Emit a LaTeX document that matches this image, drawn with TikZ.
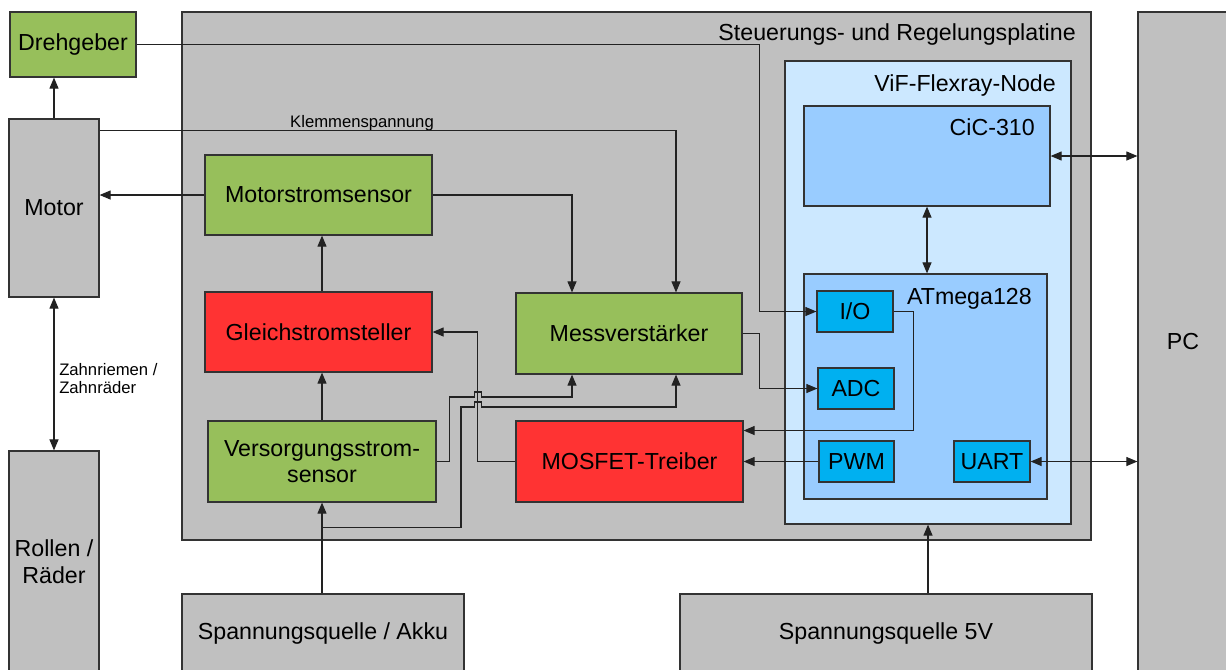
\documentclass[tikz,border=0pt]{standalone}
\usepackage{fontspec}
\setmainfont{Liberation Sans}
\usetikzlibrary{arrows.meta,calc}
\definecolor{grayc}{HTML}{C0C0C0}
\definecolor{greenc}{HTML}{97BF5B}
\definecolor{redc}{HTML}{FF3333}
\definecolor{vifc}{HTML}{CCE8FF}
\definecolor{cicc}{HTML}{99CCFF}
\definecolor{portc}{HTML}{00B0F0}
\definecolor{edgecol}{HTML}{333333}
\definecolor{linecol}{HTML}{222222}
\tikzset{
  box/.style={draw=edgecol, line width=0.9pt, fill=#1, inner sep=0pt, align=center},
  sz/.style 2 args={minimum width=#1*0.75pt, minimum height=#2*0.75pt},
  wire/.style={draw=linecol, line width=0.8pt},
  arr/.style={wire, -{Triangle[length=8.25pt,width=6.75pt]}},
  biarr/.style={wire, {Triangle[length=8.25pt,width=6.75pt]}-{Triangle[length=8.25pt,width=6.75pt]}},
  lbl/.style={inner sep=0pt},
  small/.style={inner sep=0pt, font=\fontsize{12.5}{13.5}\selectfont},
}
\begin{document}
\begin{tikzpicture}[x=0.75pt, y=-0.75pt, every node/.append style={font=\fontsize{17.4}{20}\selectfont}]
\useasboundingbox (0,0) rectangle (1226,669);

% control board and the Flexray node inside it
\node[box=grayc, sz={909}{528}] (platine) at (636.5,276) {};
\node[lbl, anchor=base east] (platinelabel) at (1076,40) {Steuerungs- und Regelungsplatine};
\node[box=vifc, sz={286}{463}] (vif) at (928,292.5) {};
\node[lbl, anchor=base east] (viflabel) at (1056,91) {ViF-Flexray-Node};
\node[box=cicc, sz={246}{100}] (cic) at (927,156) {};
\node[lbl, anchor=base east] (ciclabel) at (1035,135) {CiC-310};
\node[box=cicc, sz={243}{225}] (atm) at (925.5,386.5) {};
\node[lbl, anchor=base east] (atmlabel) at (1032,304) {ATmega128};
\node[box=portc, sz={76}{41}] (io) at (855,311.5) {I/O};
\node[box=portc, sz={76}{41}] (adc) at (856,388.5) {ADC};
\node[box=portc, sz={75}{41}] (pwm) at (856.5,461.5) {PWM};
\node[box=portc, sz={76}{41}] (uart) at (992,461.5) {UART};

% outer blocks
\node[box=greenc, sz={126}{65}] (dreh) at (73,44.5) {Drehgeber};
\node[box=grayc, sz={90}{178}] (motor) at (54,208) {Motor};
\node[box=grayc, sz={90}{222}, font=\fontsize{17.4}{20.25}\selectfont] (rollen) at (54,562) {Rollen /\\Räder};
\node[box=grayc, sz={90}{660}] (pc) at (1183,342) {PC};
\node[box=grayc, sz={282}{79}] (akku) at (323,633.5) {Spannungsquelle / Akku};
\node[box=grayc, sz={412}{79}] (v5) at (886,633.5) {Spannungsquelle 5V};

% power and measurement blocks on the board
\node[box=greenc, sz={227}{80}] (mss) at (318.5,195) {Motorstromsensor};
\node[box=redc, sz={227}{80}] (gss) at (318.5,332) {Gleichstromsteller};
\node[box=greenc, sz={226}{81}] (mv) at (629,333.5) {Messverstärker};
\node[box=greenc, sz={228}{81}, font=\fontsize{17.4}{19.5}\selectfont] (vss) at (322,461.5) {Versorgungsstrom-\\sensor};
\node[box=redc, sz={227}{81}] (mos) at (629.5,461.5) {MOSFET-Treiber};

% labels
\node[small, anchor=base] (klemm) at (362,127) {Klemmenspannung};
\node[small, anchor=west, align=left] (zahn) at (59,379) {Zahnriemen /\\Zahnräder};

% helper points
\coordinate (xing) at ($(mos.west)+(-38,0)$);
\coordinate (hopA) at (478,397);
\coordinate (hopB) at (478,407);
\coordinate (tap) at ($(vss.south)+(0,25)$);

% mechanics
\draw[arr] (motor.north) -- (motor.north |- dreh.south);
\draw[biarr] (motor.south) -- (rollen.north);

% signal paths
\draw[arr] (dreh.east) -- ++(623,0) |- (io.west);
\draw[arr] ($(motor.north east)+(0,12)$) -| ($(mv.north)+(47,0)$);
\draw[arr] (mss.east) -| ($(mv.north)+(-57,0)$);
\draw[arr] (mss.west) -- (mss.west -| motor.east);
\draw[arr] (vss.north |- gss.north) -- (vss.north |- mss.south);
\draw[arr] (vss.north) -- (vss.north |- gss.south);
\draw[arr] (akku.north -| vss.south) -- (vss.south);
\draw[arr] (mos.west) -- (xing) |- (gss.east);
\draw[arr] (vss.east) -- ++(13,0) |- ($(hopA)+(-3.5,0)$) -- ++(0,-5) -- ++(7,0) -- ++(0,5) -| ($(mv.south)+(-57,0)$);
\draw[arr] (tap) -- ++(139,0) |- ($(hopB)+(-3.5,0)$) -- ++(0,-5) -- ++(7,0) -- ++(0,5) -| ($(mv.south)+(47,0)$);
\draw[arr] (mv.east) -- ++(17,0) |- (adc.west);
\draw[arr] (io.east) -- ++(20,0) |- ($(mos.east)+(0,-31)$);
\draw[arr] (pwm.west) -- (pwm.west -| mos.east);
\draw[biarr] (uart.east) -- (uart.east -| pc.west);
\draw[biarr] (cic.east) -- (cic.east -| pc.west);
\draw[biarr] (cic.south) -- (cic.south |- atm.north);
\draw[arr] (v5.north -| vif.south) -- (vif.south);
\end{tikzpicture}
\end{document}
